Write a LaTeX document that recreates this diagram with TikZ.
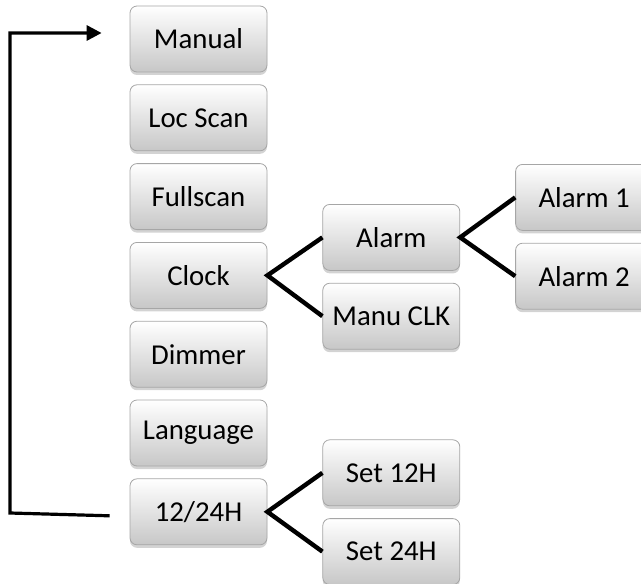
\documentclass[tikz,border=0pt]{standalone}
\usepackage{fontspec}
\setmainfont{Carlito}
\usetikzlibrary{arrows.meta, positioning, shadows}

\begin{document}
\begin{tikzpicture}[x=0.5pt, y=-0.5pt,
                menubox/.style={draw=black!35, rounded corners=3.5pt, top color=white, bottom color=black!22,
                                minimum width=68.5pt, minimum height=33pt, inner sep=2pt,
                                font=\fontsize{14.4}{17}\selectfont,
                                drop shadow={shadow xshift=0pt, shadow yshift=-1.5pt, opacity=0.35}},
                branch/.style={line width=2.2pt, line join=miter},
                loopback/.style={line width=1.6pt, -{Triangle[length=7.5pt, width=7.5pt]}}]
                \useasboundingbox (0,0) rectangle (641,583);

                % Main menu column
                \node[menubox] (manual) at (198.5,39) {Manual};
                \node[menubox, below=6pt of manual] (locscan) {Loc Scan};
                \node[menubox, below=6pt of locscan] (fullscan) {Fullscan};
                \node[menubox, below=6pt of fullscan] (clock) {Clock};
                \node[menubox, below=6pt of clock] (dimmer) {Dimmer};
                \node[menubox, below=6pt of dimmer] (language) {Language};
                \node[menubox, below=6pt of language] (hourmode) {12/24H};

                % Clock submenu
                \node[menubox, right=27.5pt of clock, yshift=19pt] (alarm) {Alarm};
                \node[menubox, below=6pt of alarm] (manuclk) {Manu CLK};

                % Alarm submenu
                \node[menubox, right=27.5pt of alarm, yshift=20pt] (alarmone) {Alarm 1};
                \node[menubox, below=6pt of alarmone] (alarmtwo) {Alarm 2};

                % 12/24H submenu
                \node[menubox, right=27.5pt of hourmode, yshift=19.5pt] (settwelve) {Set 12H};
                \node[menubox, below=6pt of settwelve] (settwentyfour) {Set 24H};

                % Branches
                \draw[branch] (alarm.west) -- (clock.east) -- (manuclk.west);
                \draw[branch] (alarmone.west) -- (alarm.east) -- (alarmtwo.west);
                \draw[branch] (settwelve.west) -- (hourmode.east) -- (settwentyfour.west);

                % Back to top
                \coordinate (backcorner) at (10,513);
                \draw[loopback] ([xshift=-10pt, yshift=-2pt]hourmode.west) -- (backcorner)
                                |- ([xshift=-14pt, yshift=3pt]manual.west);
            \end{tikzpicture}
\end{document}
